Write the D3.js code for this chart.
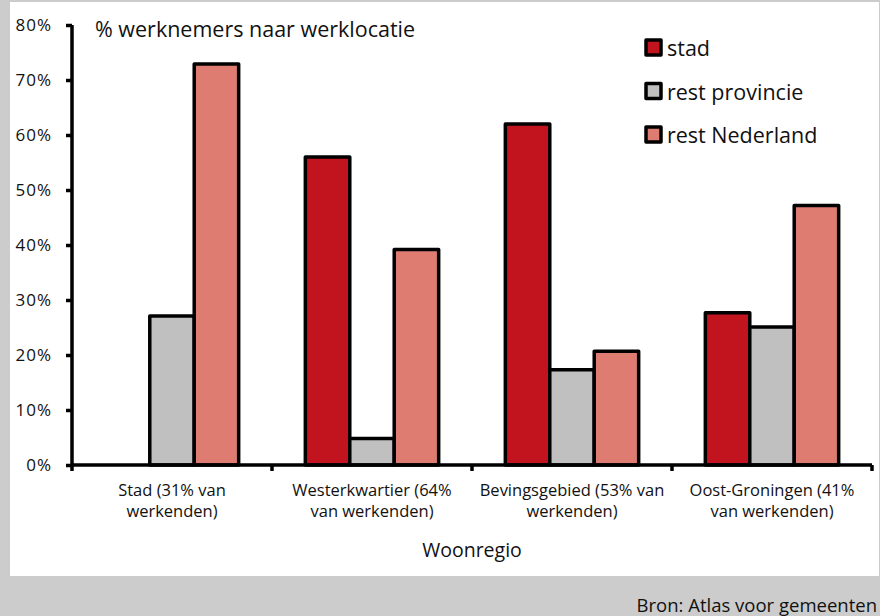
<!DOCTYPE html>
<html>
<head>
<meta charset="utf-8">
<script src="https://cdn.jsdelivr.net/npm/d3@7"></script>
<style>
  html, body { margin: 0; padding: 0; background: #cccccc; }
  svg { display: block; }
  text { font-family: "Open Sans", "Noto Sans", sans-serif; fill: #111; }
</style>
</head>
<body>
<svg id="chart" width="880" height="616"></svg>
<script>
// Woonregio's and their share of working residents
const regions = [
  ["Stad (31% van", "werkenden)"],
  ["Westerkwartier (64%", "van werkenden)"],
  ["Bevingsgebied (53% van", "werkenden)"],
  ["Oost-Groningen (41%", "van werkenden)"]
];
const regionKeys = ["Stad", "Westerkwartier", "Bevingsgebied", "Oost-Groningen"];

// Series: share of employees per work location
const seriesNames = ["stad", "rest provincie", "rest Nederland"];
const stad          = [0.0,   0.56,  0.62,  0.277];
const restProvincie = [0.271, 0.048, 0.173, 0.251];
const restNederland = [0.729, 0.392, 0.207, 0.472];
const seriesValues = [stad, restProvincie, restNederland];
const seriesColors = ["#c1141f", "#c0c0c0", "#de7c72"];

const yTicks = [0, 0.1, 0.2, 0.3, 0.4, 0.5, 0.6, 0.7, 0.8];

const svg = d3.select("#chart");

// white chart panel on the grey page
svg.append("rect")
  .attr("x", 10).attr("y", 2)
  .attr("width", 869).attr("height", 574)
  .attr("fill", "#ffffff");

const x0 = d3.scaleBand().domain(regionKeys).range([72, 872]);
const x1 = d3.scaleBand().domain(seriesNames).range([0, x0.bandwidth()])
  .paddingInner(0).paddingOuter(0.75);
const y = d3.scaleLinear().domain([0, 0.8]).range([465, 25]);

// bars
const groups = svg.append("g").selectAll("g")
  .data(regionKeys)
  .join("g")
  .attr("transform", d => `translate(${x0(d)},0)`);

groups.selectAll("rect")
  .data((d, i) => seriesNames.map((s, j) => ({ s, v: seriesValues[j][i], c: seriesColors[j] })))
  .join("rect")
  .filter(d => d.v > 0)
  .attr("x", d => x1(d.s))
  .attr("y", d => y(d.v))
  .attr("width", x1.bandwidth())
  .attr("height", d => y(0) - y(d.v))
  .attr("fill", d => d.c)
  .attr("stroke", "#000")
  .attr("stroke-width", 3.5)
  .attr("stroke-linejoin", "round");

// y axis
const yAxis = svg.append("g")
  .attr("transform", "translate(72,0)")
  .call(d3.axisLeft(y).tickValues(yTicks).tickFormat(d3.format(".0%")).tickSize(6).tickPadding(14));
yAxis.select(".domain").attr("stroke", "#000").attr("stroke-width", 3.5).attr("d", "M0,25V465");
yAxis.selectAll(".tick line").attr("stroke", "#000").attr("stroke-width", 3.5);
yAxis.selectAll(".tick text")
  .style("font-family", "'Open Sans', sans-serif")
  .style("font-size", "17px")
  .style("letter-spacing", "1px")
  .attr("fill", "#111");

// x axis with ticks at the category boundaries
const boundaries = regionKeys.map(k => x0(k)).concat([x0.range()[1]]);
const xAxisG = svg.append("g");
xAxisG.append("line")
  .attr("x1", 72).attr("x2", 872).attr("y1", y(0)).attr("y2", y(0))
  .attr("stroke", "#000").attr("stroke-width", 3.5);
xAxisG.selectAll("line.tk")
  .data(boundaries)
  .join("line")
  .attr("class", "tk")
  .attr("x1", d => d).attr("x2", d => d)
  .attr("y1", y(0)).attr("y2", y(0) + 6)
  .attr("stroke", "#000").attr("stroke-width", 3.5);

// category labels, two lines each
const catLabels = svg.append("g").selectAll("text")
  .data(regionKeys)
  .join("text")
  .attr("x", d => x0(d) + x0.bandwidth() / 2)
  .attr("y", 496)
  .attr("text-anchor", "middle")
  .style("font-size", "16.5px");
catLabels.selectAll("tspan")
  .data((d, i) => regions[i])
  .join("tspan")
  .attr("x", function () { return d3.select(this.parentNode).attr("x"); })
  .attr("dy", (d, i) => i === 0 ? 0 : 21)
  .text(d => d);

// axis title
svg.append("text")
  .attr("x", 472).attr("y", 557)
  .attr("text-anchor", "middle")
  .style("font-size", "19.5px")
  .text("Woonregio");

// chart heading inside the plot
svg.append("text")
  .attr("x", 95).attr("y", 37)
  .style("font-size", "21.5px")
  .text("% werknemers naar werklocatie");

// legend
const legend = svg.append("g").selectAll("g")
  .data(seriesNames)
  .join("g")
  .attr("transform", (d, i) => `translate(646,${40 + i * 43.5})`);
legend.append("rect")
  .attr("width", 15).attr("height", 15)
  .attr("fill", (d, i) => seriesColors[i])
  .attr("stroke", "#000").attr("stroke-width", 3.5)
  .attr("stroke-linejoin", "round");
legend.append("text")
  .attr("x", 21).attr("y", 16)
  .style("font-size", "21.5px")
  .text(d => d);

// source note along the bottom edge
svg.append("text")
  .attr("x", 877).attr("y", 612)
  .attr("text-anchor", "end")
  .style("font-size", "18.5px")
  .text("Bron: Atlas voor gemeenten");
</script>
</body>
</html>
